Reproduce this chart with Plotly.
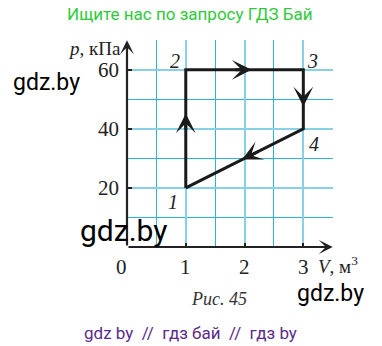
import plotly.graph_objects as go

# ---- data ----
cycle_V = [1, 1, 3, 3, 1]          # m^3
cycle_p = [20, 60, 60, 40, 20]     # kPa
point_names = ["1", "2", "3", "4"]
x_tick_vals = [0, 1, 2, 3]
x_tick_labels = ["0", "1", "2", "3"]
y_tick_vals = [20, 40, 60]
y_tick_labels = ["20", "40", "60"]
# arrow tips placed as fraction along each segment
arrow_frac = [0.63, 0.56, 0.62, 0.52]

W, H = 382, 346
L, R, T, B = 127, 333, 40, 247
PW, PH = R - L, B - T


def px2paper(px, py):
    return (px - L) / PW, (B - py) / PH


SERIF = "Liberation Serif, Times New Roman, serif"
SANS = "Roboto, Arial, sans-serif"

fig = go.Figure()
fig.add_trace(go.Scatter(x=cycle_V, y=cycle_p, mode="lines",
                         line=dict(color="#1a1a1a", width=3),
                         hoverinfo="skip", showlegend=False))

ann = []
# direction arrows on each process
for i in range(4):
    x0, y0 = cycle_V[i], cycle_p[i]
    x1, y1 = cycle_V[i + 1], cycle_p[i + 1]
    f = arrow_frac[i]
    tx, ty = x0 + (x1 - x0) * f, y0 + (y1 - y0) * f
    bx, by = x0 + (x1 - x0) * (f - 0.15), y0 + (y1 - y0) * (f - 0.15)
    ann.append(dict(x=tx, y=ty, ax=bx, ay=by, xref="x", yref="y",
                    axref="x", ayref="y", text="", showarrow=True,
                    arrowhead=3, arrowwidth=3, arrowsize=1.1,
                    arrowcolor="#1a1a1a", standoff=0))

# axes with arrows
ann.append(dict(x=3.5, y=0, ax=0, ay=0, xref="x", yref="y", axref="x", ayref="y",
                text="", showarrow=True, arrowhead=3, arrowwidth=2.2, arrowsize=1.05,
                arrowcolor="#222", standoff=0))
ann.append(dict(x=0, y=70, ax=0, ay=0, xref="x", yref="y", axref="x", ayref="y",
                text="", showarrow=True, arrowhead=3, arrowwidth=2.2, arrowsize=1.05,
                arrowcolor="#222", standoff=0))

# tick labels
for v, t in zip(x_tick_vals, x_tick_labels):
    ann.append(dict(x=v, y=0, xref="x", yref="y", text=t, showarrow=False,
                    yanchor="middle", yshift=-20, xshift=(-6 if v == 0 else 0),
                    font=dict(family=SERIF, size=21, color="#222")))
for v, t in zip(y_tick_vals, y_tick_labels):
    ann.append(dict(x=0, y=v, xref="x", yref="y", text=t, showarrow=False,
                    xanchor="right", yanchor="middle", xshift=-6,
                    font=dict(family=SERIF, size=21, color="#222")))

# axis titles
xp, yp = px2paper(123, 49)
ann.append(dict(x=xp, y=yp, xref="paper", yref="paper", text="<i>p</i>, кПа",
                showarrow=False, xanchor="right", yanchor="middle",
                font=dict(family=SERIF, size=19, color="#222")))
xp, yp = px2paper(316, 265)
ann.append(dict(x=xp, y=yp, xref="paper", yref="paper", text="<i>V</i>, м<sup>3</sup>",
                showarrow=False, xanchor="left", yanchor="middle",
                font=dict(family=SERIF, size=19, color="#222")))

# point labels
label_shift = [(-13, -14), (-11, 9), (9, 9), (11, -15)]
for i, name in enumerate(point_names):
    ann.append(dict(x=cycle_V[i], y=cycle_p[i], xref="x", yref="y",
                    text="<i>" + name + "</i>", showarrow=False,
                    xshift=label_shift[i][0], yshift=label_shift[i][1],
                    font=dict(family=SERIF, size=20, color="#222")))

# caption and watermarks
def text_px(px, py, txt, size, color, family=SANS):
    xp, yp = px2paper(px, py)
    ann.append(dict(x=xp, y=yp, xref="paper", yref="paper", text=txt,
                    showarrow=False, xanchor="center", yanchor="middle",
                    font=dict(family=family, size=size, color=color)))

text_px(190, 14, "Ищите нас по запросу ГДЗ Бай", 17, "#2fc93c")
text_px(219, 299, "<i>Рис. 45</i>", 18, "#333", SERIF)
text_px(46, 82, "gdz.by", 23, "#000")
text_px(123, 230, "gdz.by", 30, "#000")
text_px(330, 293, "gdz.by", 23, "#000")
text_px(190, 333, "gdz by  //  гдз бай  //  гдз by", 17, "#5b2c8c")

fig.update_layout(
    width=W, height=H, autosize=False,
    margin=dict(l=L, r=W - R, t=T, b=H - B, pad=0),
    paper_bgcolor="white", plot_bgcolor="white",
    annotations=ann,
    xaxis=dict(range=[0, 3.505], tickvals=[1, 2, 3], ticks="inside", ticklen=4,
               tickwidth=2, tickcolor="#222", showticklabels=False,
               showgrid=True, gridcolor="#88d0e6", gridwidth=2,
               minor=dict(dtick=0.5, tick0=0, showgrid=True, gridcolor="#2bb3da",
                          gridwidth=1, ticks=""),
               zeroline=False, showline=False, fixedrange=True),
    yaxis=dict(range=[0, 70.1], tickvals=[20, 40, 60], ticks="inside", ticklen=5,
               tickwidth=2, tickcolor="#222", showticklabels=False,
               showgrid=True, gridcolor="#88d0e6", gridwidth=2,
               minor=dict(dtick=10, tick0=0, showgrid=True, gridcolor="#2bb3da",
                          gridwidth=1, ticks=""),
               zeroline=False, showline=False, fixedrange=True),
)

fig.write_html("out.html", config=dict(displayModeBar=False))
